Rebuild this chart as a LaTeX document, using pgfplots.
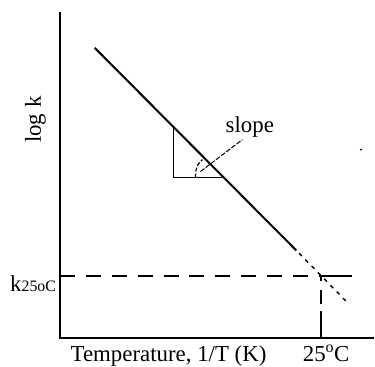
\documentclass[border=0pt]{standalone}
\usepackage{pgfplots}
\pgfplotsset{compat=1.18}
\usepackage{fontspec}
\setmainfont{Liberation Serif}
\begin{document}
\begin{tikzpicture}
\begin{axis}[
  width=375bp, height=366bp, scale only axis,
  xmin=0, xmax=375, ymin=0, ymax=366,
  hide axis, clip=false,
  font=\fontsize{23}{27}\selectfont,
]
% frame for bounding box
\addplot[draw=none] coordinates {(0,0) (375,366)};
% axes
\addplot[black, line width=2bp] coordinates {(60,354) (60,27) (375,27)};
% main line
\addplot[black, line width=2bp] coordinates {(95,318) (297,115)};
% dashed extension
\addplot[black, line width=1.4bp, dash pattern=on 4bp off 5bp, dash phase=-4bp] coordinates {(297,115) (348,63)};
% horizontal dashed at k25
\addplot[black, line width=1.8bp, dash pattern=on 15bp off 11bp] coordinates {(60,89) (322,89)};
\addplot[black, line width=1.8bp] coordinates {(322,89) (353,89)};
% vertical dashed at 25C
\addplot[black, line width=1.8bp, dash pattern=on 5bp off 9bp on 14bp off 7bp on 30bp] coordinates {(322,89) (322,27)};
% slope triangle
\addplot[black, line width=1.8bp] coordinates {(174,238) (174,188) (223,188)};
% angle arc
\addplot[black, line width=1.2bp, smooth, dash pattern=on 4bp off 2bp] coordinates {(196,188) (196.5,195) (198.5,201) (203,206)};
% leader
\addplot[black, line width=1bp, dash pattern=on 5bp off 1.5bp] coordinates {(201,194) (243,226)};
% stray dot
\addplot[black, only marks, mark=*, mark size=0.8bp] coordinates {(362,216)};
% labels
\node[anchor=base] at (axis cs:250.5,233) {slope};
\node[anchor=base, rotate=90] at (axis cs:41,246) {log k};
\node[anchor=base west, inner sep=0pt] at (axis cs:10,74) {k{\fontsize{16}{16}\selectfont 25oC}};
\node[anchor=base, inner sep=0pt] at (axis cs:169,3.5) {Temperature, 1/T (K)};
\node[anchor=base, inner sep=0pt] at (axis cs:327,3.5) {25\textsuperscript{o}C};
\end{axis}
\end{tikzpicture}
\end{document}
